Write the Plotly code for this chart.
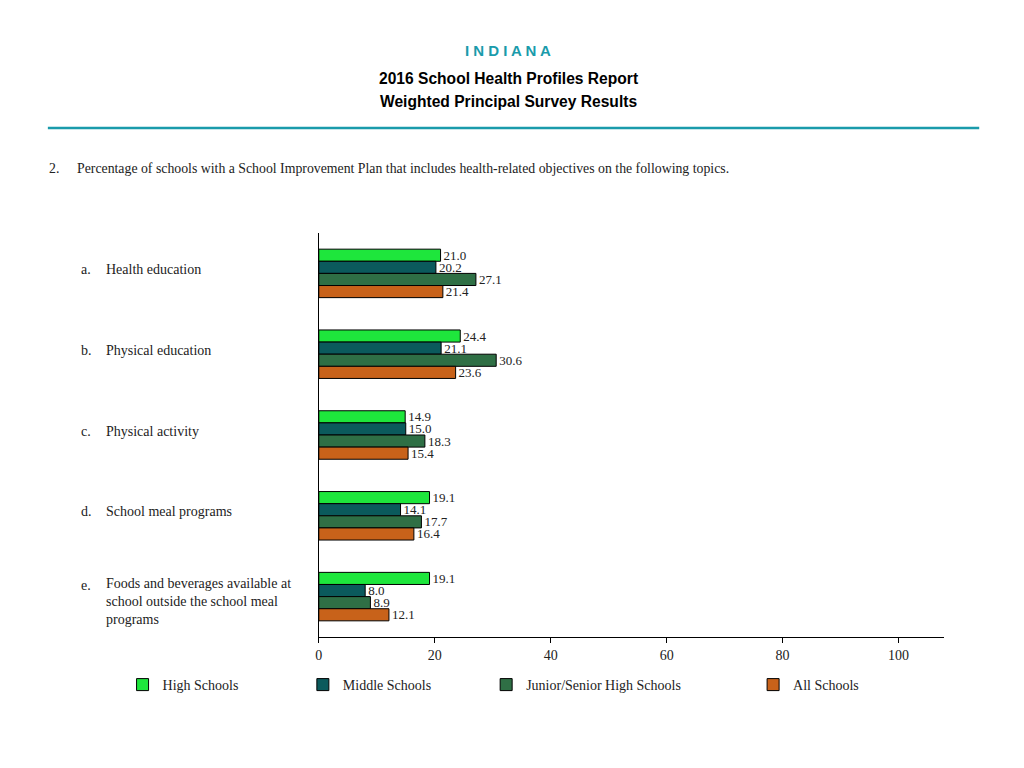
import plotly.graph_objects as go

W, H = 1024, 768
OFF_X, OFF_Y = 10, 8  # page body margin

# data
topics = ["a", "b", "c", "d", "e"]
topic_labels = [
    "Health education",
    "Physical education",
    "Physical activity",
    "School meal programs",
    "Foods and beverages available at<br>school outside the school meal<br>programs",
]
series_names = ["High Schools", "Middle Schools", "Junior/Senior High Schools", "All Schools"]
high_schools = [21.0, 24.4, 14.9, 19.1, 19.1]
middle_schools = [20.2, 21.1, 15.0, 14.1, 8.0]
junior_senior = [27.1, 30.6, 18.3, 17.7, 8.9]
all_schools = [21.4, 23.6, 15.4, 16.4, 12.1]
x_ticks = [0, 20, 40, 60, 80, 100]

colors = ["#1ee63c", "#0b5a5c", "#2f6f45", "#c8621a"]
serif = "Liberation Serif"
teal = "#1a9bab"

def px(x):
    return (x - OFF_X) / W

def py(y):
    return 1 - (y - OFF_Y) / H

fig = go.Figure()
for i, (name, vals) in enumerate(zip(series_names,
                                      [high_schools, middle_schools, junior_senior, all_schools])):
    fig.add_trace(go.Bar(
        y=topics, x=vals, name=name, orientation="h",
        marker=dict(color=colors[i], line=dict(color="black", width=1)),
        text=[f"{v:.1f}" for v in vals], textposition="outside",
        textfont=dict(family=serif, size=13, color="#222"),
        constraintext="none", cliponaxis=False,
        legend="legend" if i == 0 else f"legend{i + 1}",
    ))

# one legend per series so each sits where the reference puts it
legend_text_x = [158, 339, 523, 791]
for i, lx in enumerate(legend_text_x):
    key = "legend" if i == 0 else f"legend{i + 1}"
    fig.update_layout(**{key: dict(
        x=px(lx - 37), y=py(685), xanchor="left", yanchor="middle",
        orientation="h", itemwidth=30, bgcolor="rgba(0,0,0,0)",
        font=dict(family=serif, size=14, color="#222"),
    )})

annotations = [
    dict(text="<b>" + " ".join("INDIANA") + "</b>", x=px(508), y=py(50), showarrow=False,
         yanchor="middle", font=dict(family="Liberation Sans", size=15, color=teal),
         xref="paper", yref="paper"),
    dict(text="<b>2016 School Health Profiles Report</b>", x=px(508), y=py(79), showarrow=False,
         yanchor="middle", font=dict(family="Liberation Sans", size=15.6, color="black"),
         xref="paper", yref="paper"),
    dict(text="<b>Weighted Principal Survey Results</b>", x=px(508), y=py(101), showarrow=False,
         yanchor="middle", font=dict(family="Liberation Sans", size=15.6, color="black"),
         xref="paper", yref="paper"),
    dict(text="2.", x=px(45), y=py(168), xanchor="left", yanchor="middle", showarrow=False,
         font=dict(family=serif, size=13.8, color="#222"), xref="paper", yref="paper"),
    dict(text="Percentage of schools with a School Improvement Plan that includes health-related objectives on the following topics.",
         x=px(73), y=py(168), xanchor="left", yanchor="middle", showarrow=False,
         font=dict(family=serif, size=13.8, color="#222"), xref="paper", yref="paper"),
]
label_shift = [4, 4, 4, 4, -5]
for t, lab, ys in zip(topics, topic_labels, label_shift):
    nlines = lab.count("<br>")
    annotations.append(dict(text=f"{t}.", x=px(77), y=t, xref="paper", yref="y",
                            xanchor="left", yanchor="middle", showarrow=False,
                            yshift=ys + 8 * nlines,
                            font=dict(family=serif, size=14, color="#222")))
    annotations.append(dict(text=lab, x=px(102), y=t, xref="paper", yref="y",
                            xanchor="left", yanchor="middle", showarrow=False, align="left",
                            yshift=ys,
                            font=dict(family=serif, size=14, color="#222")))

fig.update_layout(
    width=W, height=H,
    margin=dict(l=0, r=0, t=0, b=0),
    paper_bgcolor="white", plot_bgcolor="white",
    barmode="group", bargap=0.4, bargroupgap=0,
    showlegend=True,
    annotations=annotations,
    shapes=[dict(type="line", xref="paper", yref="paper",
                 x0=px(46), x1=px(981), y0=py(128), y1=py(128),
                 line=dict(color=teal, width=2.5))],
    xaxis=dict(domain=[px(318), px(946)], range=[0, 107.9], tickvals=x_ticks,
               showline=True, linecolor="black", linewidth=1, showgrid=False, zeroline=False,
               ticks="outside", ticklen=5, tickcolor="black",
               tickfont=dict(family=serif, size=14, color="#222")),
    yaxis=dict(domain=[py(637), py(233)], autorange="reversed",
               showline=True, linecolor="black", linewidth=1, showgrid=False,
               showticklabels=False, ticks=""),
)

fig.write_html("out.html")
